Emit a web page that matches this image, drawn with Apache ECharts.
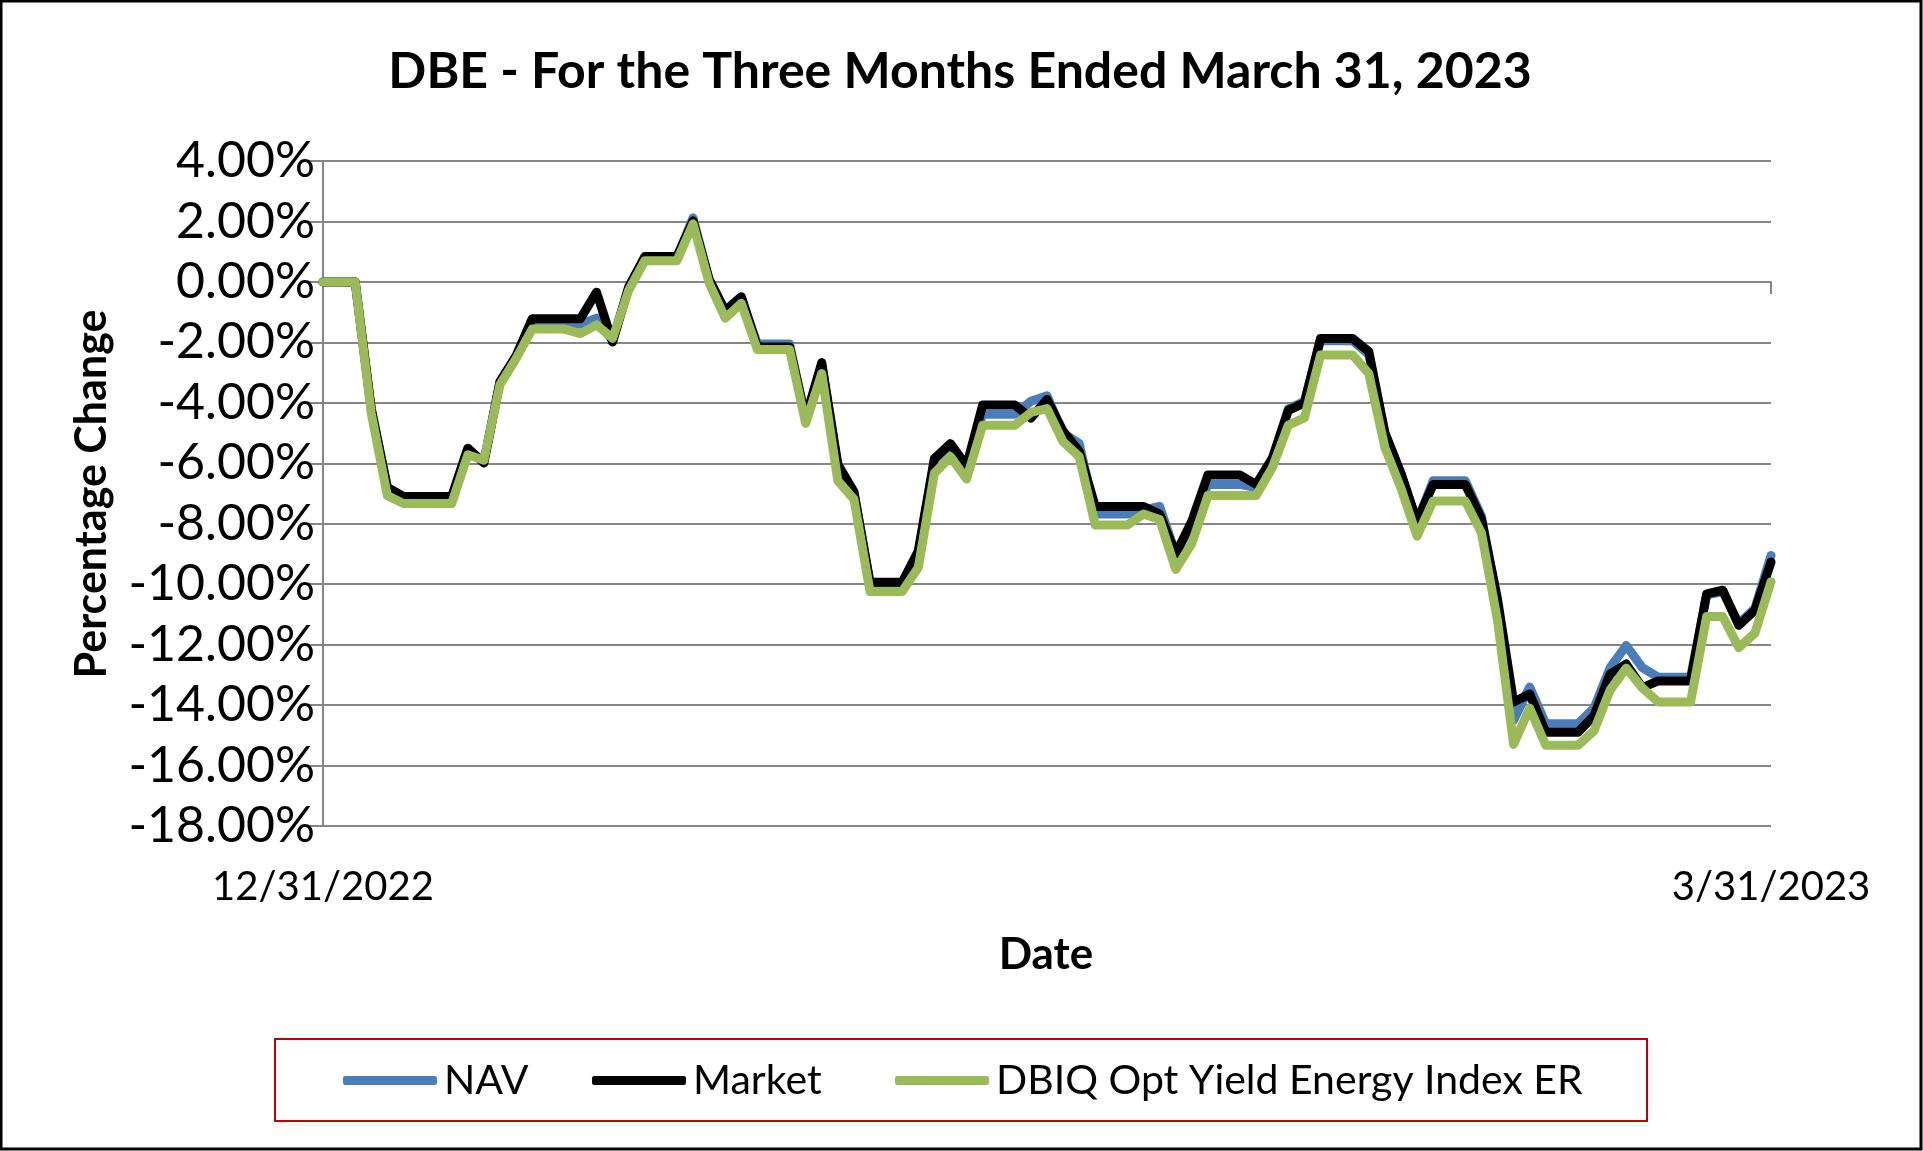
<!DOCTYPE html>
<html>
<head>
<meta charset="utf-8">
<script src="https://cdn.jsdelivr.net/npm/echarts@6/dist/echarts.min.js"></script>
<style>
html,body{margin:0;padding:0;background:#fff;}
#chart{width:1923px;height:1151px;}
</style>
</head>
<body>
<div id="chart"></div>
<script>
// Daily (calendar-day) points from 12/31/2022 to 3/31/2023, percent change
var startDate = '2022-12-31';
var endDate = '2023-03-31';
var yTicks = [4, 2, 0, -2, -4, -6, -8, -10, -12, -14, -16, -18];

var navValues = [
  0, 0, 0, -4.2, -6.8, -7.15, -7.15, -7.15, -7.15, -5.55,
  -5.95, -3.3, -2.45, -1.3, -1.3, -1.3, -1.4, -1.2, -1.95, -0.2,
  0.8, 0.8, 0.8, 2.12, 0.05, -1.0, -0.55, -2.05, -2.05, -2.05,
  -4.55, -2.75, -6.1, -6.95, -9.96, -9.96, -9.96, -8.95, -5.9, -5.4,
  -6.15, -4.38, -4.38, -4.38, -3.95, -3.77, -5.0, -5.35, -7.68, -7.68,
  -7.68, -7.55, -7.43, -9.0, -8.0, -6.7, -6.7, -6.7, -6.8, -5.9,
  -4.2, -3.95, -1.95, -1.95, -1.95, -2.4, -5.0, -6.35, -7.95, -6.58,
  -6.58, -6.58, -7.75, -10.6, -14.5, -13.4, -14.62, -14.62, -14.62, -14.1,
  -12.76, -12.03, -12.76, -13.08, -13.08, -13.08, -10.35, -10.25, -11.3, -10.8,
  -9.05
];
var marketValues = [
  0, 0, 0, -4.2, -6.8, -7.1, -7.1, -7.1, -7.1, -5.5,
  -5.99, -3.3, -2.45, -1.22, -1.22, -1.22, -1.22, -0.34, -1.99, -0.16,
  0.84, 0.84, 0.84, 2.02, 0.09, -0.95, -0.49, -2.15, -2.15, -2.15,
  -4.5, -2.67, -6.03, -6.94, -9.94, -9.94, -9.94, -8.9, -5.84, -5.35,
  -6.09, -4.07, -4.07, -4.07, -4.5, -3.89, -4.93, -5.6, -7.43, -7.43,
  -7.43, -7.43, -7.68, -9.0, -7.92, -6.39, -6.39, -6.39, -6.7, -5.84,
  -4.25, -4.0, -1.87, -1.87, -1.87, -2.3, -4.99, -6.33, -7.92, -6.7,
  -6.7, -6.7, -7.84, -10.49, -13.9, -13.63, -14.9, -14.9, -14.9, -14.35,
  -12.97, -12.64, -13.42, -13.2, -13.2, -13.2, -10.32, -10.2, -11.36, -10.86,
  -9.27
];
var indexValues = [
  0, 0, 0, -4.35, -7.07, -7.33, -7.33, -7.33, -7.33, -5.72,
  -5.9, -3.4, -2.54, -1.56, -1.56, -1.56, -1.71, -1.42, -1.87, -0.28,
  0.7, 0.7, 0.7, 1.92, -0.04, -1.2, -0.71, -2.24, -2.24, -2.24,
  -4.68, -3.03, -6.58, -7.19, -10.24, -10.24, -10.24, -9.45, -6.33, -5.78,
  -6.52, -4.74, -4.74, -4.74, -4.32, -4.19, -5.29, -5.78, -8.04, -8.04,
  -8.04, -7.68, -7.86, -9.51, -8.66, -7.07, -7.07, -7.07, -7.07, -6.15,
  -4.74, -4.5, -2.42, -2.42, -2.42, -3.03, -5.48, -6.82, -8.41, -7.25,
  -7.25, -7.25, -8.3, -11.2, -15.3, -14.1, -15.33, -15.33, -15.33, -14.85,
  -13.5, -12.78, -13.43, -13.9, -13.9, -13.9, -11.07, -11.07, -12.1, -11.62,
  -9.92
];
var seriesNames = ['NAV', 'Market', 'DBIQ Opt Yield Energy Index ER'];

// build calendar-day categories
var categories = [];
(function(){
  var d = new Date(startDate + 'T00:00:00Z');
  var e = new Date(endDate + 'T00:00:00Z');
  while (d <= e) {
    categories.push((d.getUTCMonth()+1) + '/' + d.getUTCDate() + '/' + d.getUTCFullYear());
    d = new Date(d.getTime() + 86400000);
  }
})();
var lastIdx = categories.length - 1;

var FONT = 'Lato, "Open Sans", sans-serif';
var GRID = '#868686';

function legendItem(name, left) {
  return {
    data: [name],
    left: left, top: 1060,
    padding: 0,
    itemWidth: 94, itemHeight: 9,
    icon: 'roundRect',
    textStyle: {color: '#000', fontFamily: FONT, fontSize: 41, padding: [0, 0, 0, 2]}
  };
}

var chart = echarts.init(document.getElementById('chart'), null, {renderer: 'canvas'});
chart.setOption({
  animation: false,
  backgroundColor: '#ffffff',
  grid: {left: 323, right: 152, top: 161, bottom: 325, containLabel: false},
  xAxis: [{
    type: 'category',
    data: categories,
    boundaryGap: false,
    axisLine: {show: true, onZero: true, lineStyle: {color: GRID, width: 2}},
    axisTick: {show: true, length: 12, lineStyle: {color: GRID, width: 2},
      interval: function(i){ return i === 0 || i === lastIdx; }},
    axisLabel: {show: false},
    splitLine: {show: false}
  }, {
    type: 'category',
    data: categories,
    boundaryGap: false,
    position: 'bottom',
    axisLine: {show: false, onZero: false},
    axisTick: {show: false},
    axisLabel: {show: true, margin: 41, color: '#000', fontFamily: FONT, fontSize: 40,
      interval: function(i){ return i === 0 || i === lastIdx; }},
    splitLine: {show: false}
  }],
  yAxis: {
    type: 'value',
    min: -18, max: 4, interval: 2,
    axisLine: {show: true, onZero: false, lineStyle: {color: GRID, width: 2}},
    axisTick: {show: true, length: 15, lineStyle: {color: GRID, width: 2}},
    splitLine: {show: true, lineStyle: {color: GRID, width: 2}},
    axisLabel: {color: '#000', fontFamily: FONT, fontSize: 50, margin: 8,
      formatter: function(v){ return v.toFixed(2) + '%'; }}
  },
  legend: [
    legendItem(seriesNames[0], 343),
    legendItem(seriesNames[1], 592),
    legendItem(seriesNames[2], 895)
  ],
  graphic: [
    {type: 'rect', shape: {x: 1, y: 1, width: 1920, height: 1148},
      style: {fill: 'none', stroke: '#000', lineWidth: 3}, silent: true},
    {type: 'rect', shape: {x: 275, y: 1039, width: 1372, height: 82},
      style: {fill: 'none', stroke: '#c00000', lineWidth: 2}, silent: true},
    {type: 'text', x: 960, y: 72,
      style: {text: 'DBE - For the Three Months Ended March 31, 2023', fontFamily: FONT, fontWeight: 'bold',
        fontSize: 50, fill: '#000', textAlign: 'center', textVerticalAlign: 'middle'}},
    {type: 'text', x: 92, y: 494, rotation: Math.PI / 2,
      style: {text: 'Percentage Change', fontFamily: FONT, fontWeight: 'bold',
        fontSize: 43, fill: '#000', textAlign: 'center', textVerticalAlign: 'middle'}},
    {type: 'text', x: 1046, y: 955,
      style: {text: 'Date', fontFamily: FONT, fontWeight: 'bold',
        fontSize: 44, fill: '#000', textAlign: 'center', textVerticalAlign: 'middle'}}
  ],
  series: [
    {name: seriesNames[0], type: 'line', data: navValues, showSymbol: false, symbol: 'none',
      color: '#4A7EBB', lineStyle: {width: 9, color: '#4A7EBB', join: 'round', cap: 'round'}},
    {name: seriesNames[1], type: 'line', data: marketValues, showSymbol: false, symbol: 'none',
      color: '#000000', lineStyle: {width: 9, color: '#000000', join: 'round', cap: 'round'}},
    {name: seriesNames[2], type: 'line', data: indexValues, showSymbol: false, symbol: 'none',
      color: '#9BBB59', lineStyle: {width: 9, color: '#9BBB59', join: 'round', cap: 'round'}}
  ]
});
</script>
</body>
</html>
